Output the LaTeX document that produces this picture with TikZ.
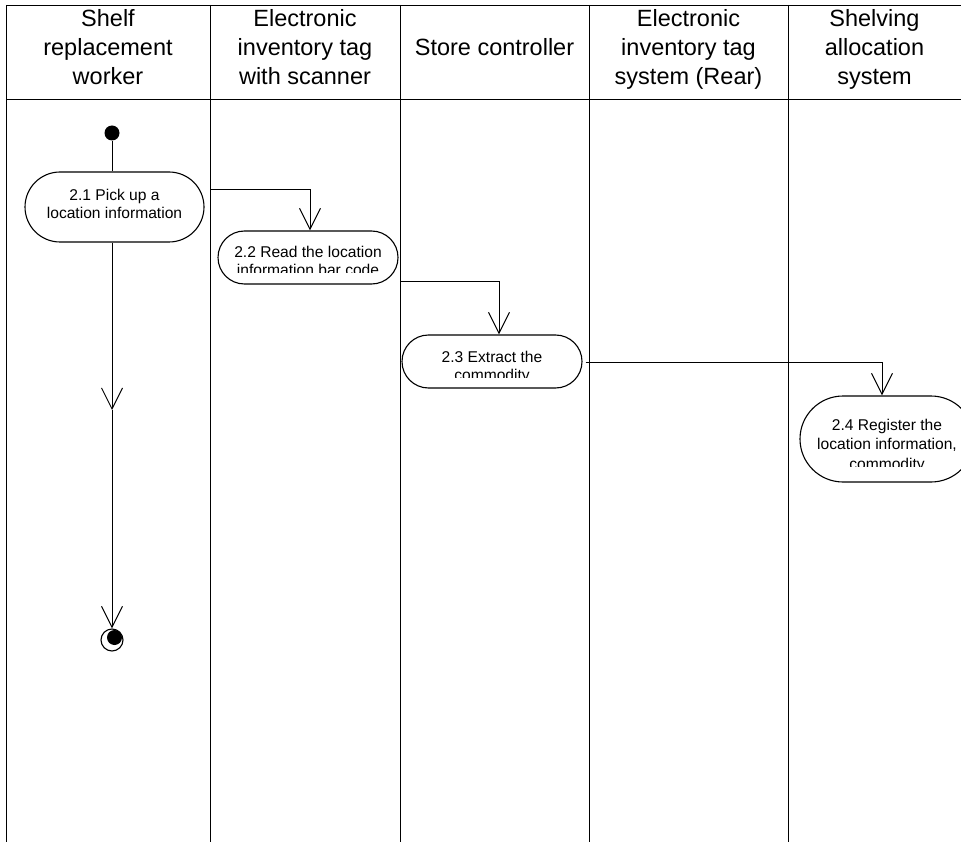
\documentclass[tikz,border=0pt]{standalone}
\usepackage{fontspec}
\setmainfont{Liberation Sans}
\usetikzlibrary{arrows.meta,shapes.misc,calc}
\begin{document}
\begin{tikzpicture}[x=1pt,y=-1pt,
  lane/.style={line width=0.9pt},
  hdr/.style={font=\fontsize{23.5}{29}\selectfont, align=center, anchor=base, inner sep=0pt},
  act/.style={draw, rounded rectangle, line width=1.1pt, fill=white, inner sep=0pt},
  txt/.style={font=\fontsize{15.6}{18}\selectfont, align=center, anchor=base, inner sep=0pt},
  flow/.style={line width=1pt},
  arr/.style={flow, -{Straight Barb[length=21pt,width=21pt,line width=1pt]}},
  dot/.style={circle, fill=black, inner sep=0pt, minimum size=15pt}
]
\useasboundingbox (0,0) rectangle (961,842);
\clip (0,0) rectangle (961,842);
% lanes
\draw[lane] (6,5) -- (961,5);
\draw[lane] (6,99) -- (961,99);
\foreach \xx in {6,210,400,589,788} {\draw[lane] (\xx,5) -- (\xx,842);}
% headers
\node[hdr] (h1) at (108,85) {Shelf\\replacement\\worker};
\node[hdr] (h2) at (305,85) {Electronic\\inventory tag\\with scanner};
\node[hdr] (h3) at (494.5,56) {Store controller};
\node[hdr] (h4) at (688.5,85) {Electronic\\inventory tag\\system (Rear)};
\node[hdr] (h5) at (874.5,85) {Shelving\\allocation\\system};
% activities
\node[dot] (s) at (112,133) {};
\node[act, minimum width=179pt, minimum height=70pt] (n21) at (114.5,207) {};
\node[txt] (t21) at (114.5,219) {2.1 Pick up a\\location information};
\node[act, minimum width=180pt, minimum height=53pt] (n22) at (308,257.5) {};
\begin{scope}
\clip (220,232) rectangle (396,273);
\node[txt] (t22) at (308,275.5) {2.2 Read the location\\information bar code};
\end{scope}
\node[act, minimum width=180pt, minimum height=53pt] (n23) at (492,361.5) {};
\begin{scope}
\clip (404,336) rectangle (580,377);
\node[txt] (t23) at (492,380) {2.3 Extract the\\commodity};
\end{scope}
\node[act, minimum width=174pt, minimum height=86pt] (n24) at (887,439) {};
\begin{scope}
\clip (802,397) rectangle (961,466);
\node[txt, font=\fontsize{15.6}{19.5}\selectfont] (t24) at (887,469) {2.4 Register the\\location information,\\commodity};
\end{scope}
% final
\node[circle, draw, line width=1.1pt, minimum size=22pt, inner sep=0pt] (e) at (112,640) {};
\node[dot] (ei) at (114.5,637.5) {};
% connectors
\coordinate (m1) at (112,410);
\draw[flow] (s) -- (s |- n21.north);
\draw[arr] (s |- n21.south) -- (m1);
\draw[arr] (m1) -- (e.north);
\draw[arr] ($(n21.east)+(6,-17)$) -| ([xshift=2pt]n22.north);
\draw[arr] ($(n22.east)+(2,24.5)$) -| ([xshift=7pt]n23.north);
\draw[arr] ($(n23.east)+(3,0.5)$) -| ([xshift=-5pt]n24.north);
\end{tikzpicture}
\end{document}
